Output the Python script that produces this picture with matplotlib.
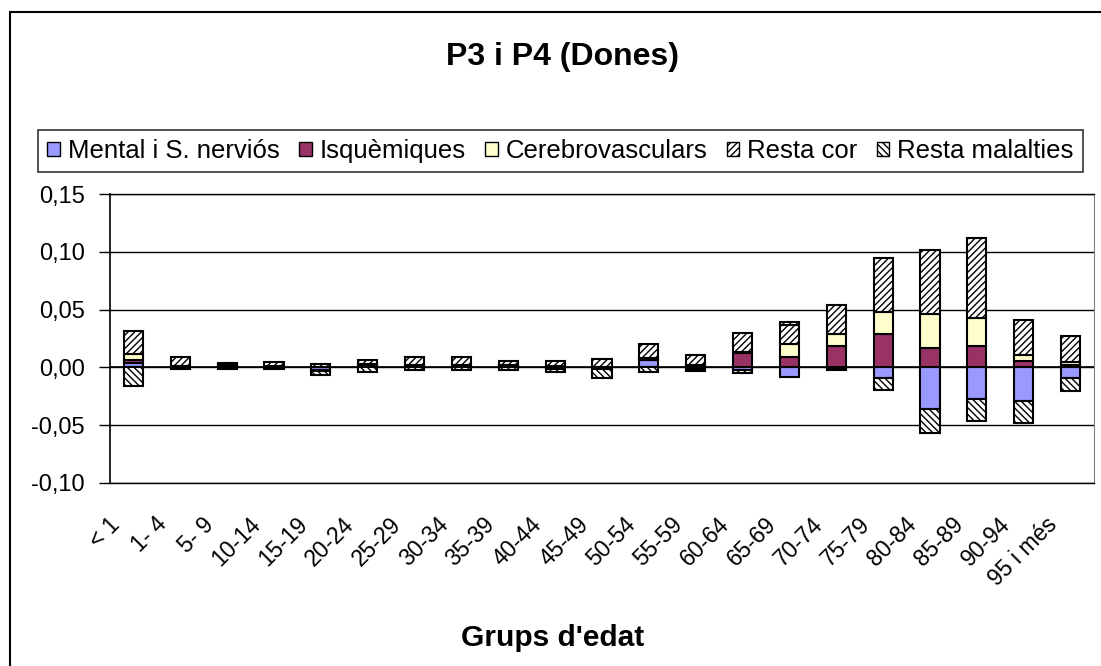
import numpy as np
import matplotlib
matplotlib.use('Agg')
import matplotlib.pyplot as plt
from matplotlib.patches import Rectangle, Patch
from matplotlib.ticker import FuncFormatter
from matplotlib.transforms import ScaledTranslation

# Age groups and contributions of each cause
groups = ['< 1', '1- 4', '5- 9', '10-14', '15-19', '20-24', '25-29', '30-34', '35-39',
          '40-44', '45-49', '50-54', '55-59', '60-64', '65-69', '70-74', '75-79',
          '80-84', '85-89', '90-94', '95 i més']
mental = [0.004, 0.0, 0.001, 0.0, -0.002, 0.002, 0.0, 0.0, 0.0, -0.001, -0.001,
          0.006, -0.001, -0.002, -0.0086, -0.001, -0.0095, -0.036, -0.0273, -0.0287, -0.0095]
isquemiques = [0.002, 0.001, 0.001, 0.001, -0.001, 0.001, 0.001, 0.001, 0.001, 0.001, 0.0,
               0.001, 0.001, 0.0124, 0.0086, 0.0187, 0.0293, 0.0172, 0.0187, 0.0055, 0.002]
cerebro = [0.006, 0.0, 0.001, 0.0, 0.0, 0.0, 0.001, 0.001, 0.001, 0.0005, 0.0,
           0.001, 0.001, 0.0005, 0.012, 0.010, 0.0187, 0.0287, 0.0244, 0.0049, 0.0026]
resta_cor = [0.0195, 0.008, 0.001, 0.004, 0.003, 0.003, 0.007, 0.007, 0.0035, 0.004, 0.007,
             0.0125, 0.009, 0.017, 0.016, 0.025, 0.0468, 0.056, 0.069, 0.031, 0.0227]
resta_mal = [-0.016, -0.001, -0.001, -0.001, -0.004, -0.004, -0.0026, -0.0026, -0.0026, -0.0033,
             -0.0085, -0.0037, -0.002, -0.003, 0.003, -0.001, -0.0098, -0.021, -0.0193, -0.0193, -0.0112]

series = [
    ('Mental i S. nerviós', mental, '#9999FF', ''),
    ('Isquèmiques', isquemiques, '#993366', ''),
    ('Cerebrovasculars', cerebro, '#FFFFCC', ''),
    ('Resta cor', resta_cor, 'white', '/////'),
    ('Resta malalties', resta_mal, 'white', '\\\\\\\\\\'),
]

plt.rcParams['font.family'] = ['Liberation Sans', 'DejaVu Sans']
plt.rcParams['hatch.linewidth'] = 1.0
plt.rcParams['hatch.color'] = 'black'

fig = plt.figure(figsize=(11.01, 6.66), dpi=100)

# outer chart border
fig.patches.append(Rectangle((10 / 1101, -0.1), 1.2, (666 - 12) / 666 + 0.1,
                             transform=fig.transFigure, fill=False,
                             edgecolor='black', linewidth=1.5))

ax = fig.add_axes([110 / 1101, (666 - 483) / 666, (1094 - 110) / 1101, (483 - 194) / 666])

x = np.arange(len(groups))
pos_base = np.zeros(len(groups))
neg_base = np.zeros(len(groups))
handles = []
for name, vals, color, hatch in series:
    v = np.array(vals)
    bottom = np.where(v >= 0, pos_base, neg_base)
    ax.bar(x, v, width=0.41, bottom=bottom, color=color, edgecolor='black',
           linewidth=1.5, hatch=hatch, zorder=3)
    pos_base += np.where(v >= 0, v, 0)
    neg_base += np.where(v < 0, v, 0)
    handles.append(Patch(facecolor=color, edgecolor='black', hatch=hatch, linewidth=1.0))

ax.set_xlim(-0.5, len(groups) - 0.5)
ax.set_ylim(-0.10, 0.15)
ax.set_yticks(np.arange(-0.10, 0.151, 0.05))
ax.yaxis.set_major_formatter(FuncFormatter(lambda v, p: f'{v:.2f}'.replace('.', ',').replace('-0,00', '0,00')))
ax.grid(axis='y', color='black', linewidth=1.0, zorder=0)
ax.axhline(0, color='black', linewidth=1.2, zorder=1)
ax.tick_params(axis='y', labelsize=17, length=8, width=1, pad=10)
ax.tick_params(axis='x', length=0, pad=0)
ax.set_xticks(x)
ax.set_xticklabels(groups, rotation=45, ha='right', va='center', rotation_mode='anchor', fontsize=16.5)
shift = ScaledTranslation(-0.17, -0.38, fig.dpi_scale_trans)
for lab in ax.get_xticklabels():
    lab.set_transform(lab.get_transform() + shift)
for s in ['top', 'bottom']:
    ax.spines[s].set_color('black')
    ax.spines[s].set_linewidth(1.0)
ax.spines['left'].set_linewidth(1.2)
ax.spines['right'].set_color('#808080')

fig.text(562 / 1101, 1 - 57 / 666, 'P3 i P4 (Dones)', ha='center', va='center',
         fontsize=23, fontweight='bold')
fig.text(553 / 1101, 1 - 638 / 666, "Grups d'edat", ha='center', va='center',
         fontsize=21.5, fontweight='bold')

leg = fig.legend(handles, [s[0] for s in series], loc='center',
                 bbox_to_anchor=((33 + 1088) / 2 / 1101, 1 - 151 / 666), ncol=5,
                 fontsize=18.5, frameon=True, fancybox=False, edgecolor='black',
                 handlelength=0.5, handleheight=0.5, handletextpad=0.3,
                 columnspacing=0.75, borderpad=0.35, borderaxespad=0)
leg.get_frame().set_linewidth(1.2)

fig.savefig('out.png', dpi=100)
